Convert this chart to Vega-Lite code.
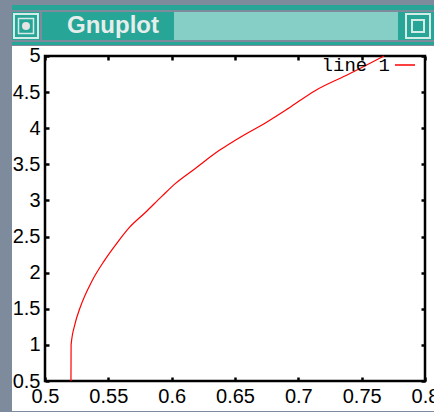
{
  "$schema": "https://vega.github.io/schema/vega-lite/v6.json",
  "background": "#7d8b9c",
  "padding": {"left": 10, "top": 5, "right": 0, "bottom": 2},
  "spacing": 0,
  "config": {"concat": {"spacing": 0}, "view": {"stroke": null}},
  "vconcat": [
    {
      "width": 424, "height": 5,
      "view": {"fill": "#27a597", "stroke": null},
      "data": {"values": []},
      "mark": {"type": "point"}
    },
    {
      "spacing": 0,
      "hconcat": [
        {
          "width": 28, "height": 28,
          "view": {"fill": "#27a597", "stroke": null},
          "data": {"values": [{"icon": "menu"}]},
          "layer": [
            {"mark": {"type": "point", "shape": "square", "size": 576, "filled": false, "stroke": "#d4ebe7", "strokeWidth": 2, "opacity": 1}},
            {"mark": {"type": "point", "shape": "square", "size": 225, "filled": false, "stroke": "#d4ebe7", "strokeWidth": 1.5, "opacity": 1}},
            {"mark": {"type": "point", "shape": "circle", "size": 64, "filled": true, "fill": "#e4e4e4", "opacity": 1}}
          ]
        },
        {
          "width": 132, "height": 28,
          "view": {"fill": "#27a597", "stroke": null},
          "data": {"values": [{"name": "Gnuplot"}]},
          "mark": {"type": "text", "font": "Liberation Sans", "fontWeight": "bold", "fontSize": 24, "color": "#e6eeec", "align": "center", "baseline": "middle", "dx": 5},
          "encoding": {"text": {"field": "name"}}
        },
        {
          "width": 224, "height": 28,
          "view": {"fill": "#86cfc6", "stroke": null},
          "data": {"values": []},
          "mark": {"type": "point"}
        },
        {
          "width": 40, "height": 28,
          "view": {"fill": "#27a597", "stroke": null},
          "data": {"values": [{"icon": "max"}]},
          "layer": [
            {"mark": {"type": "point", "shape": "square", "size": 576, "filled": false, "stroke": "#d4ebe7", "strokeWidth": 2, "opacity": 1, "dx": 6}},
            {"mark": {"type": "point", "shape": "square", "size": 144, "filled": false, "stroke": "#d4ebe7", "strokeWidth": 2, "opacity": 1, "dx": 11, "dy": -5}}
          ]
        }
      ]
    },
    {
      "width": 424, "height": 3,
      "view": {"fill": "#27a597", "stroke": null},
      "data": {"values": []},
      "mark": {"type": "point"}
    },
    {
      "width": 424, "height": 365,
      "view": {"fill": "#ffffff", "stroke": null},
      "data": {"values": [
        {"x": 0.5205, "y": 0.5},
        {"x": 0.5206, "y": 1.0},
        {"x": 0.5237, "y": 1.29},
        {"x": 0.5276, "y": 1.51},
        {"x": 0.5371, "y": 1.885},
        {"x": 0.5466, "y": 2.16},
        {"x": 0.5568, "y": 2.41},
        {"x": 0.5663, "y": 2.62},
        {"x": 0.579, "y": 2.83},
        {"x": 0.5924, "y": 3.06},
        {"x": 0.6026, "y": 3.23},
        {"x": 0.6184, "y": 3.44},
        {"x": 0.6374, "y": 3.69},
        {"x": 0.6555, "y": 3.89},
        {"x": 0.6737, "y": 4.07},
        {"x": 0.6926, "y": 4.28},
        {"x": 0.7132, "y": 4.52},
        {"x": 0.74, "y": 4.75},
        {"x": 0.7676, "y": 5.0}
      ]},
      "resolve": {"axis": {"x": "independent", "y": "independent"}},
      "layer": [
        {
          "data": {"values": [{}]},
          "mark": {"type": "rect", "fill": "transparent", "stroke": "#000000", "strokeWidth": 2.5},
          "encoding": {
            "x": {"datum": 0.5, "type": "quantitative",
              "scale": {"domain": [0.473947, 0.808684], "nice": false, "zero": false},
              "axis": {"orient": "top", "offset": -10, "values": [0.5, 0.55, 0.6, 0.65, 0.7, 0.75, 0.8], "labels": false, "domain": false, "grid": false, "tickSize": -4, "tickWidth": 2.5, "tickColor": "#000000", "title": null, "zindex": 1}},
            "x2": {"datum": 0.8},
            "y": {"datum": 0.5, "type": "quantitative",
              "scale": {"domain": [0.08462, 5.13846], "nice": false, "zero": false},
              "axis": {"orient": "right", "offset": -11, "values": [0.5, 1, 1.5, 2, 2.5, 3, 3.5, 4, 4.5, 5], "labels": false, "domain": false, "grid": false, "tickSize": -4, "tickWidth": 2.5, "tickColor": "#000000", "title": null, "zindex": 1}},
            "y2": {"datum": 5}
          }
        },
        {
          "mark": {"type": "line", "strokeWidth": 1.2, "interpolate": "monotone"},
          "encoding": {
            "x": {"field": "x", "type": "quantitative",
              "scale": {"domain": [0.473947, 0.808684], "nice": false, "zero": false},
              "axis": {"orient": "bottom", "offset": -30, "values": [0.5, 0.55, 0.6, 0.65, 0.7, 0.75, 0.8], "format": "~g", "domain": false, "grid": false, "tickSize": -4, "tickWidth": 2.5, "tickColor": "#000000", "labelFont": "Liberation Sans", "labelFontSize": 20, "labelColor": "#000000", "labelPadding": 9, "labelFlush": false, "labelOverlap": false, "title": null, "zindex": 1}},
            "y": {"field": "y", "type": "quantitative",
              "scale": {"domain": [0.08462, 5.13846], "nice": false, "zero": false},
              "axis": {"orient": "left", "offset": -33, "values": [0.5, 1, 1.5, 2, 2.5, 3, 3.5, 4, 4.5, 5], "format": "~g", "domain": false, "grid": false, "tickSize": -4, "tickWidth": 2.5, "tickColor": "#000000", "labelFont": "Liberation Sans", "labelFontSize": 20, "labelColor": "#000000", "labelPadding": 9, "labelFlush": false, "labelOverlap": false, "title": null, "zindex": 1}},
            "color": {"datum": "line 1", "type": "nominal",
              "scale": {"range": ["#ff0000"]},
              "legend": {"orient": "none", "legendX": 382, "legendY": 49, "title": null, "symbolType": "stroke", "symbolSize": 400, "symbolStrokeWidth": 1.5, "labelAlign": "right", "labelOffset": -26, "labelFont": "Liberation Mono", "labelFontSize": 19, "labelColor": "#000000", "padding": 0, "offset": 0}}
          }
        }
      ]
    }
  ]
}
